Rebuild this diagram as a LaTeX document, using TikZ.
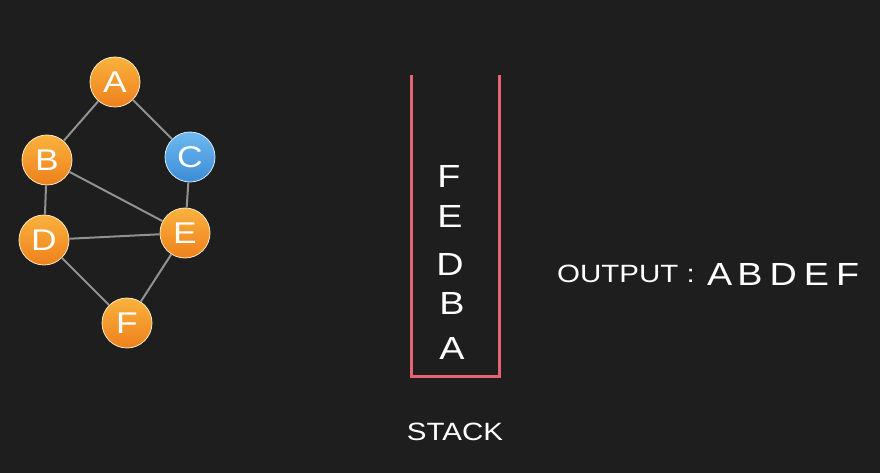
\documentclass[tikz,border=0pt]{standalone}
\usepackage{fontspec}
\setmainfont{Liberation Sans}
\newfontfamily\widesans[FakeStretch=1.18]{Liberation Sans}
\definecolor{bg}{RGB}{30,30,30}
\definecolor{vtop}{RGB}{250,178,62}
\definecolor{vbot}{RGB}{238,128,28}
\definecolor{ctop}{RGB}{110,185,240}
\definecolor{cbot}{RGB}{60,140,215}
\definecolor{edgegray}{RGB}{145,145,145}
\definecolor{stackred}{RGB}{228,100,115}
\tikzset{
  vertex/.style={circle,minimum size=50pt,inner sep=0pt,draw=white!70!vtop,line width=0.8pt,
    top color=vtop,bottom color=vbot,text=white,font=\widesans\fontsize{30}{30}\selectfont},
  visited/.style={vertex,draw=white!70!ctop,top color=ctop,bottom color=cbot},
  item/.style={text=white,font=\widesans\fontsize{32}{32}\selectfont},
}
\begin{document}
\begin{tikzpicture}[x=1pt,y=-1pt]
      \fill[bg] (0,0) rectangle (880,473);
      \useasboundingbox (0,0) rectangle (880,473);
      \path
        (115,82) node[vertex] (A){A}
        (47,160) node[vertex] (B){B}
        (190,157) node[visited] (C){C}
        (44,240) node[vertex] (D){D}
        (185,233) node[vertex] (E){E}
        (127,323) node[vertex] (F){F};
      \begin{scope}[-,edgegray,line width=2pt]
        \draw (A) to (B);
        \draw (A) to (C);
        \draw (B) to (D);
        \draw (B) to (E);
        \draw (C) to (E);
        \draw (D) to (E);
        \draw (D) to (F);
        \draw (E) to (F);
      \end{scope}
      % stack
      \coordinate (s1) at (411,75);
      \coordinate (s2) at (411,376);
      \coordinate (s3) at (499,376);
      \coordinate (s4) at (499,75);
      \draw[stackred,line width=3pt] (s1) -- (s2) -- (s3) -- (s4);
      \path
        (449,176) node[item] (sF){F}
        (450,216) node[item] (sE){E}
        (450,264) node[item] (sD){D}
        (452,303) node[item] (sB){B}
        (452,348) node[item] (sA){A};
      \node[text=white,font=\widesans\fontsize{25}{25}\selectfont] (stack) at (455,432) {STACK};
      \node[anchor=base west,text=white,font=\widesans\fontsize{25}{25}\selectfont,inner sep=0pt] (out) at (557,282) {OUTPUT :};
      \node[anchor=base west,text=white,font=\widesans\fontsize{32}{32}\selectfont,inner sep=0pt] (seq) at (707,285)
        {A\kern5pt B\kern7pt D\kern7pt E\kern7pt F};
    \end{tikzpicture}
\end{document}
